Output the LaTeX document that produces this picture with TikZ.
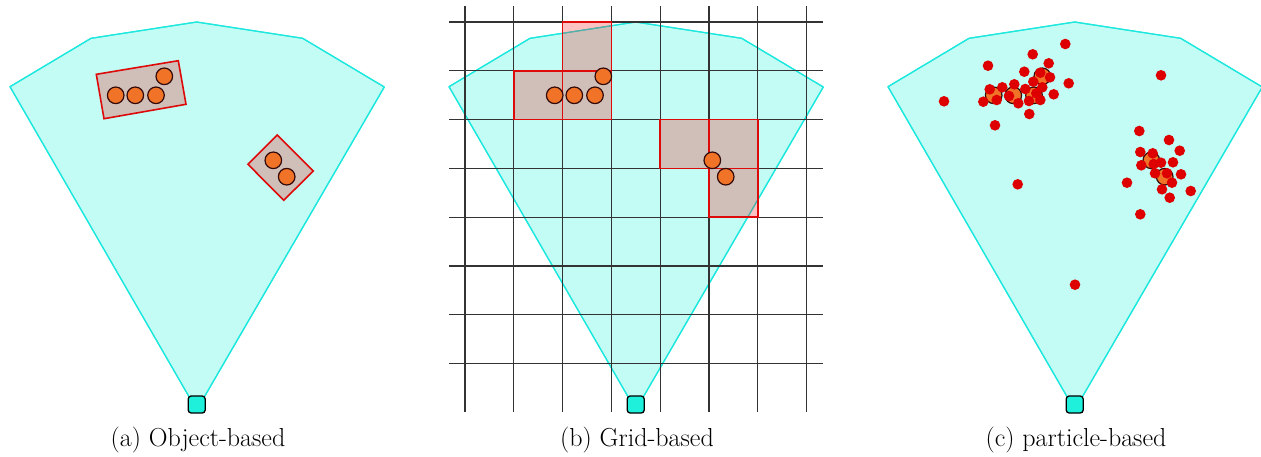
\documentclass[tikz,border=0pt]{standalone}
\usepackage{fontspec}
\begin{document}
\begin{tikzpicture}[x=1pt,y=-1pt]
\definecolor{fanfill}{RGB}{194,252,244}
\definecolor{fanline}{RGB}{30,232,222}
\definecolor{sensorfill}{RGB}{30,240,220}
\definecolor{boxred}{RGB}{222,10,10}
\definecolor{objorange}{RGB}{240,115,40}
\definecolor{objline}{RGB}{50,10,10}
\definecolor{partred}{RGB}{222,0,0}
\tikzset{
  fan/.style={fill=fanfill, draw=fanline, line width=1.2pt, line join=round},
  sensor/.style={draw=black, fill=sensorfill, rectangle, rounded corners=3pt, minimum size=17pt, inner sep=0pt, line width=1.3pt},
  obj/.style={circle, draw=objline, fill=objorange, minimum size=16.6pt, inner sep=0pt, line width=1.2pt},
  region/.style={draw=boxred, fill=red, fill opacity=0.24, line width=1.6pt, line join=miter},
  gridline/.style={draw=black!80, line width=1.2pt},
  particle/.style={circle, fill=partred, minimum size=10.6pt, inner sep=0pt},
  caption/.style={font=\fontsize{26}{30}\selectfont, inner sep=0pt}
}
\useasboundingbox (0,0) rectangle (1261,456);
\clip (0,0) rectangle (1261,456);
\newcommand{\fanpath}{(10,86.7) -- (91,38.3) -- (196.7,22) -- (302.7,38.3) -- (384.3,87) -- (196.7,410) -- cycle}

% ---------- (a) object-based ----------
\begin{scope}
  \fill[fan] \fanpath;
  \draw[fan, fill=none] \fanpath;
  \draw[region] (96.3,74.3) -- (178.3,60.7) -- (186,104.3) -- (104,118.7) -- cycle;
  \draw[region] (277.3,135) -- (313.3,171) -- (283.7,200.3) -- (248,164.3) -- cycle;
  \node[obj] (a1) at (115.7,95.3) {};
  \node[obj] (a2) at (135.3,95.3) {};
  \node[obj] (a3) at (156,95.3) {};
  \node[obj] (a4) at (164.3,76.3) {};
  \node[obj] (a5) at (273.3,160.3) {};
  \node[obj] (a6) at (286.7,176.7) {};
  \node[sensor] (sa) at (196.7,404.5) {};
  \node[caption] (capa) at (198,440) {(a) Object-based};
\end{scope}

% ---------- (b) grid-based ----------
\begin{scope}[xshift=439pt]
  \fill[fan] \fanpath;
  \draw[fan, fill=none] \fanpath;
\end{scope}
\foreach \i in {0,...,7} {
  \draw[gridline] ({465+48.81*\i},6) -- ({465+48.81*\i},411.7);
  \draw[gridline] (449.3,{22+48.81*\i}) -- (822.7,{22+48.81*\i});
}
\foreach \c/\r in {2/0,1/1,2/1,4/2,5/2,5/3} {
  \draw[region] ({465+48.81*\c},{22+48.81*\r}) rectangle ({465+48.81*(\c+1)},{22+48.81*(\r+1)});
}
\begin{scope}[xshift=439pt]
  \node[obj] (b1) at (115.7,95.3) {};
  \node[obj] (b2) at (135.3,95.3) {};
  \node[obj] (b3) at (156,95.3) {};
  \node[obj] (b4) at (164.3,76.3) {};
  \node[obj] (b5) at (273.3,160.3) {};
  \node[obj] (b6) at (286.7,176.7) {};
  \node[sensor] (sb) at (196.7,404.5) {};
  \node[caption] (capb) at (198,440) {(b) Grid-based};
\end{scope}

% ---------- (c) particle-based ----------
\begin{scope}[xshift=878pt]
  \fill[fan] \fanpath;
  \draw[fan, fill=none] \fanpath;
  \node[obj] (c1) at (115.7,95.3) {};
  \node[obj] (c2) at (135.3,95.3) {};
  \node[obj] (c3) at (156,95.3) {};
  \node[obj] (c4) at (164.3,76.3) {};
  \node[obj] (c5) at (273.3,160.3) {};
  \node[obj] (c6) at (286.7,176.7) {};
  \node[sensor] (sc) at (196.7,404.5) {};
  \node[caption] (capc) at (198,440) {(c) particle-based};
\end{scope}
\foreach \x/\y [count=\k] in {
  1065.3/44, 1032.7/54.3, 988/65.7, 1048.7/63.3, 1024.3/71.7, 1040.3/72.7,
  1050/77.3, 1068.7/83.3, 1033.3/81.7, 1014.3/84.3, 1002.3/87.3, 989.7/89.3,
  1025.3/89, 1042.3/87.3, 1036.3/93.3, 1053.7/94.3, 944/101.3, 983.3/101.7,
  996.7/100, 1009/96, 1018.3/103.3, 1029/101, 1040.3/100, 1029.3/114, 995/125.3,
  1161/75.3,
  1139.3/131, 1169/140, 1179.7/150.7, 1140.3/152, 1152.7/153.3, 1141.3/165.3,
  1153.7/164, 1161/162.7, 1173/162.3, 1155/173.3, 1167/173.3, 1181/174.3,
  1127/182.7, 1172/182.7, 1162/189.3, 1190.7/191, 1169.7/197.7, 1140.3/214.3,
  1017.7/184.3, 1075/284.7} {
  \node[particle] (p\k) at (\x,\y) {};
}
\end{tikzpicture}
\end{document}
